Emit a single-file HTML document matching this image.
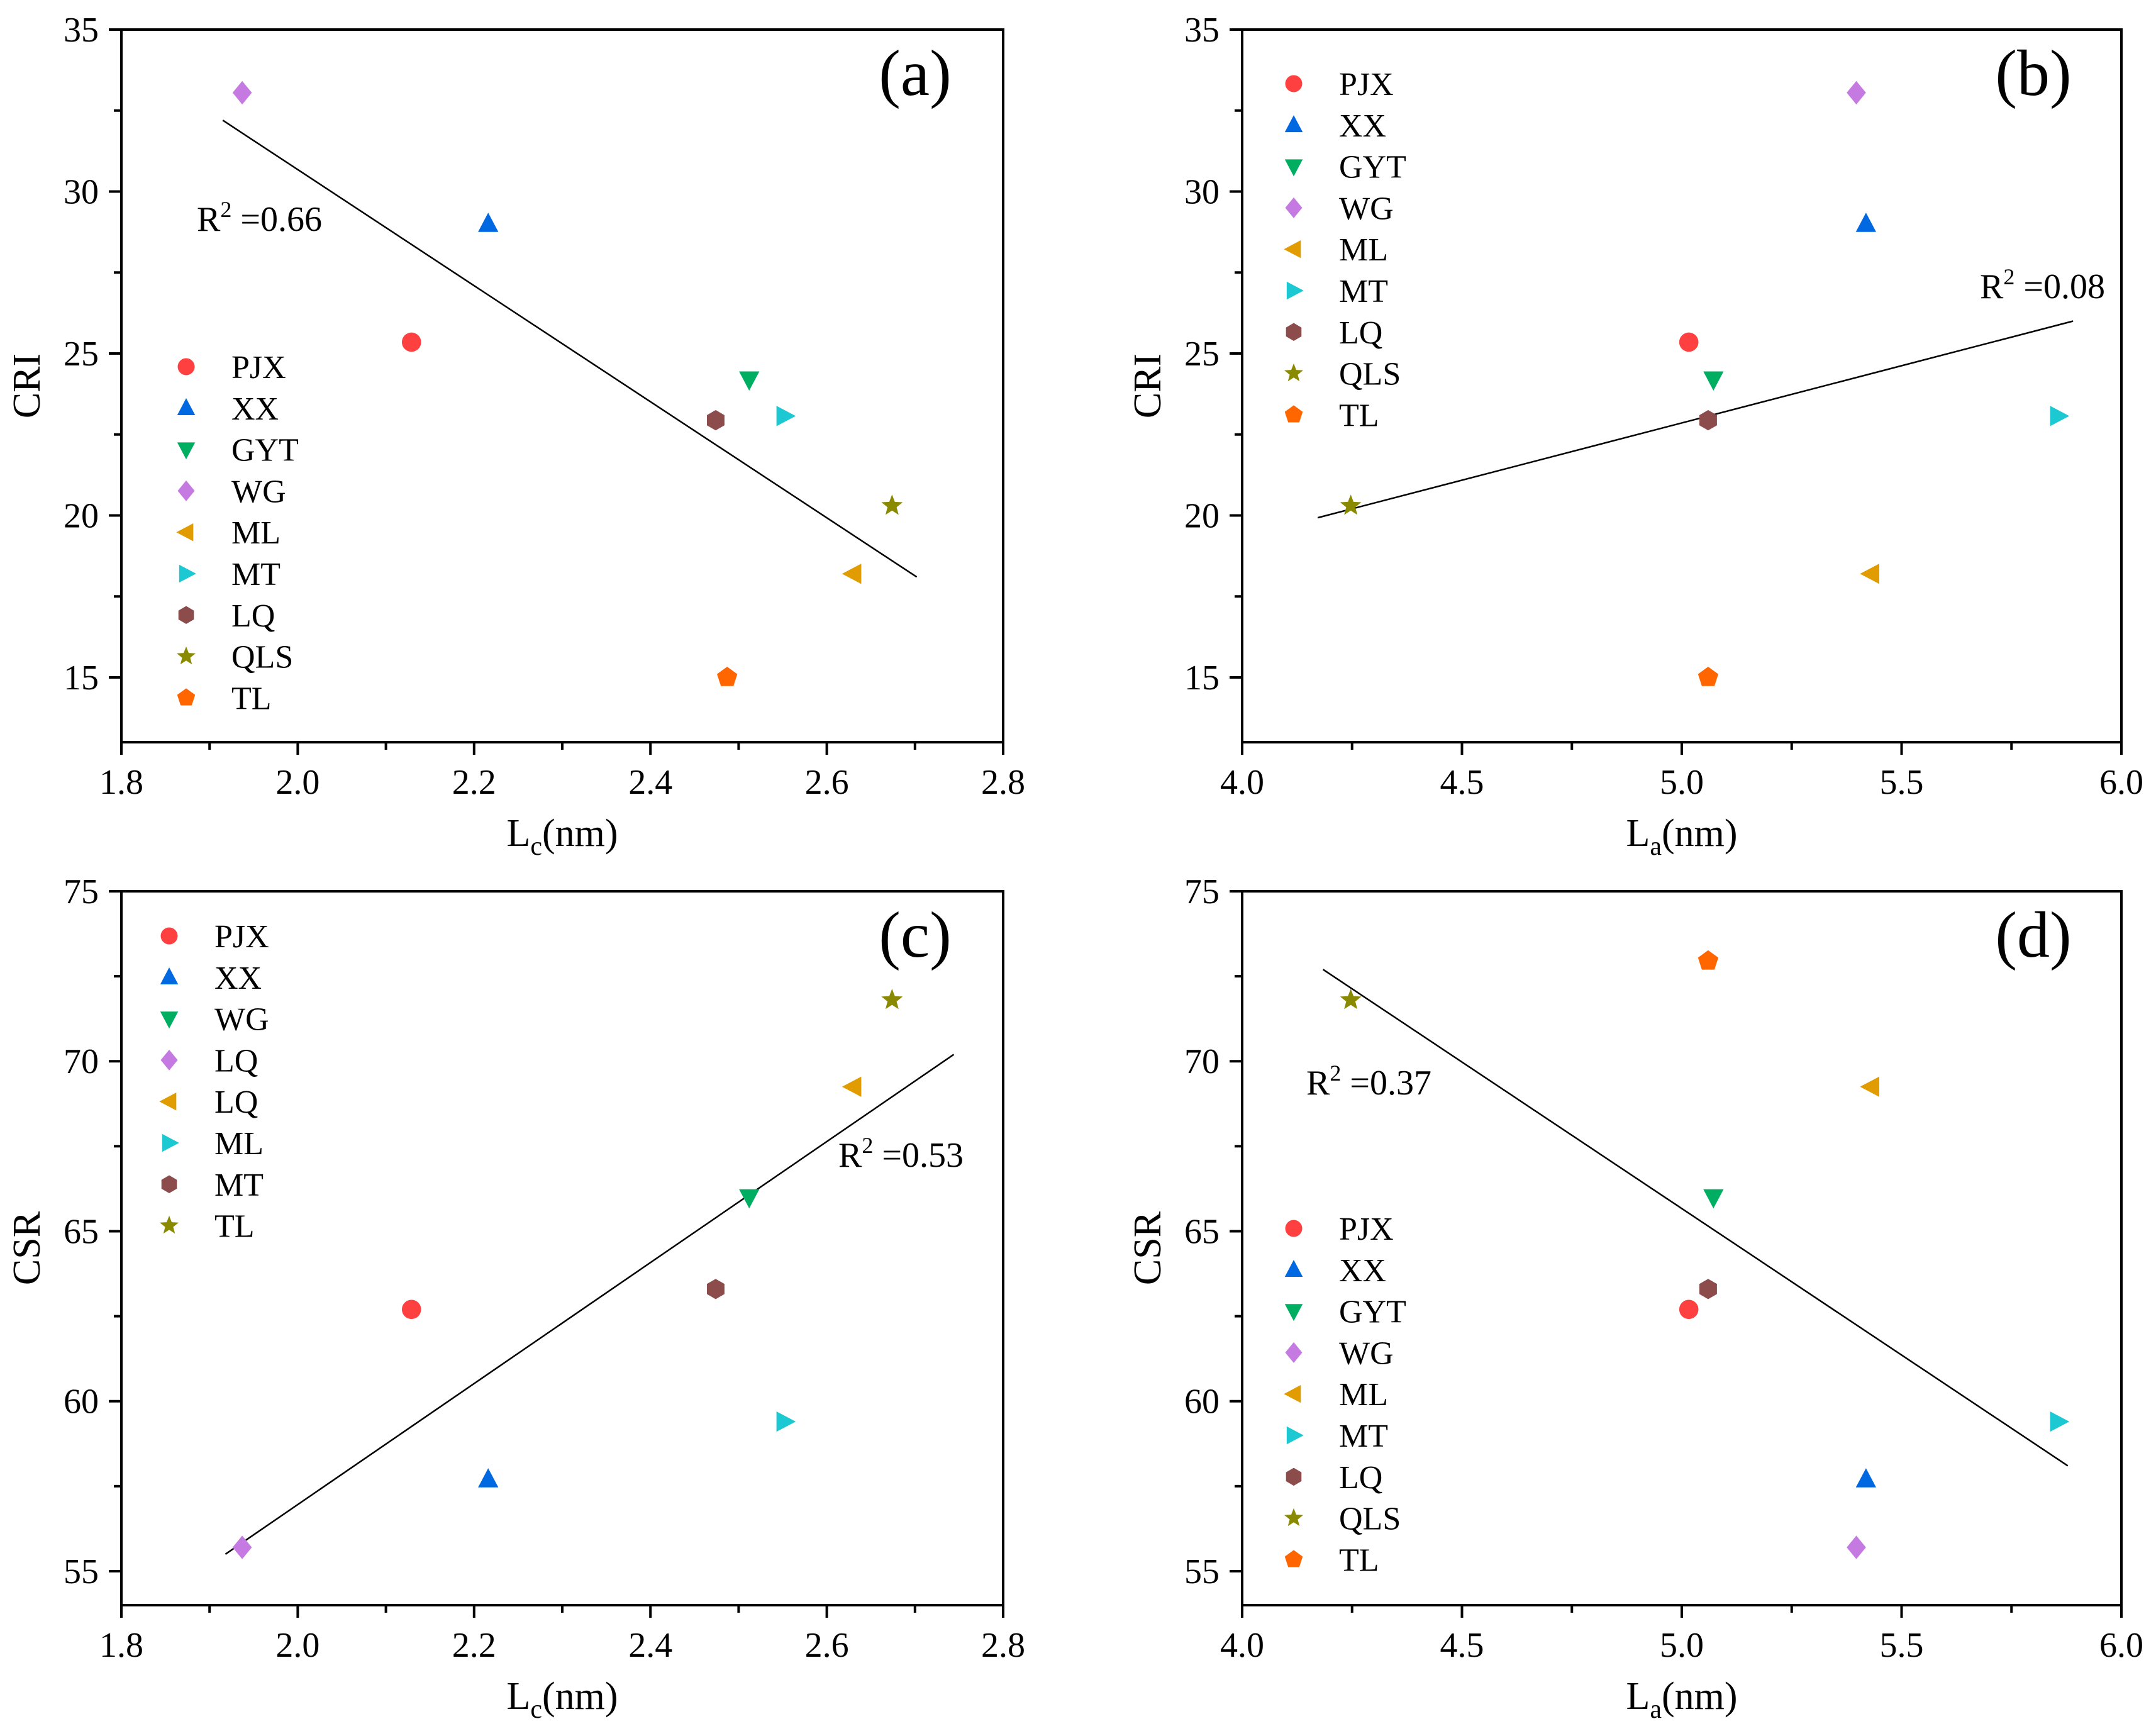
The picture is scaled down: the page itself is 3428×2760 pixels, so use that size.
<!DOCTYPE html>
<html><head><meta charset="utf-8"><style>
html,body{margin:0;padding:0;background:#fff;}
svg{display:block;font-family:"Liberation Serif","DejaVu Serif",serif;}
text{font-family:"Liberation Serif","DejaVu Serif",serif;fill:#000;}
</style></head><body>
<svg id="fig" width="3428" height="2760" viewBox="0 0 3428 2760" xmlns="http://www.w3.org/2000/svg" font-family="Liberation Serif, serif"></svg>
<script>
// ---- data ----
const sampleNames = ["PJX","XX","GYT","WG","ML","MT","LQ","QLS","TL"];
const lcValues = [2.129,2.216,2.512,1.937,2.630,2.552,2.474,2.674,2.487];
const laValues = [5.016,5.419,5.072,5.397,5.431,5.856,5.060,4.247,5.060];
const criValues = [25.35,29.0,24.2,33.05,18.2,23.07,22.94,20.3,15.0];
const csrValues = [62.7,57.7,66.0,55.7,69.25,59.4,63.3,71.8,72.95];
const xTicksLc = [1.8,2.0,2.2,2.4,2.6,2.8];
const xTicksLa = [4.0,4.5,5.0,5.5,6.0];
const yTicksCri = [15,20,25,30,35];
const yTicksCsr = [55,60,65,70,75];
const fitA = [1.915,32.2,2.702,18.1];
const fitB = [4.172,19.93,5.89,26.0];
const fitC = [1.918,55.5,2.744,70.2];
const fitD = [4.184,72.7,5.878,58.1];
const legendC = ["PJX","XX","WG","LQ","LQ","ML","MT","TL"];

const colors = {PJX:"#ff4040",XX:"#0068e0",GYT:"#00ae62",WG:"#c47ae0",ML:"#e09c00",MT:"#1cc8d2",LQ:"#8c4c4c",QLS:"#8a8a00",TL:"#ff6600"};
const shapes = {PJX:"circle",XX:"up",GYT:"down",WG:"diamond",ML:"left",MT:"right",LQ:"hex",QLS:"star",TL:"pent"};
const legendCShapes = ["circle","up","down","diamond","left","right","hex","star"];
const legendCColors = ["#ff4040","#0068e0","#00ae62","#c47ae0","#e09c00","#1cc8d2","#8c4c4c","#8a8a00"];

const svg = document.getElementById('fig');
const NS = "http://www.w3.org/2000/svg";
const FF = '"Liberation Serif", "DejaVu Serif", serif';
function mk(tag, attrs, parent){const e=document.createElementNS(NS,tag);for(const k in attrs)e.setAttribute(k,attrs[k]);if(tag==='text'){e.setAttribute('font-family',FF);e.style.fontFamily=FF;}(parent||svg).appendChild(e);return e;}

function markerPath(shape,cx,cy,r){
  let pts=[];
  if(shape==="up") pts=[[0,-1.05],[0.95,0.75],[-0.95,0.75]];
  else if(shape==="down") pts=[[0,1.05],[0.95,-0.75],[-0.95,-0.75]];
  else if(shape==="left") pts=[[-1.05,0],[0.75,-0.95],[0.75,0.95]];
  else if(shape==="right") pts=[[1.05,0],[-0.75,-0.95],[-0.75,0.95]];
  else if(shape==="diamond") pts=[[0,-1.1],[0.9,0],[0,1.1],[-0.9,0]];
  else if(shape==="hex"){for(let i=0;i<6;i++){const a=Math.PI/6+i*Math.PI/3;pts.push([Math.cos(a)*0.95,Math.sin(a)*0.95]);}}
  else if(shape==="pent"){for(let i=0;i<5;i++){const a=-Math.PI/2+i*2*Math.PI/5;pts.push([Math.cos(a),Math.sin(a)]);}}
  else if(shape==="star"){for(let i=0;i<10;i++){const a=-Math.PI/2+i*Math.PI/5;const rr=i%2?0.45:1.05;pts.push([Math.cos(a)*rr,Math.sin(a)*rr]);}}
  return "M"+pts.map(p=>(cx+p[0]*r).toFixed(1)+","+(cy+p[1]*r).toFixed(1)).join("L")+"Z";
}
function drawMarker(g,shape,color,cx,cy,r,name){
  let e;
  if(shape==="circle") e=mk('circle',{cx:cx,cy:cy,r:r*0.9,fill:color},g);
  else e=mk('path',{d:markerPath(shape,cx,cy,r),fill:color},g);
  
  
  return e;
}

function panel(opt){
  const g=mk('g',{});
  
  
  const {L,R,T,B,xmin,xmax,ymin,ymax}=opt;
  const sx=v=>L+(v-xmin)/(xmax-xmin)*(R-L);
  const sy=v=>B-(v-ymin)/(ymax-ymin)*(B-T);
  const frame=mk('rect',{x:L,y:T,width:R-L,height:B-T,fill:"none",stroke:"#000","stroke-width":4},g);
  
  
  const xt=opt.xticks, xstep=xt[1]-xt[0];
  for(let i=0;i<xt.length;i++){
    const x=sx(xt[i]);
    mk('line',{x1:x,y1:B,x2:x,y2:B+20,stroke:"#000","stroke-width":4},g);
    const t=mk('text',{x:x,y:B+82,"font-size":56,"text-anchor":"middle"},g);
    t.textContent=xt[i].toFixed(1);
    
    
    if(i<xt.length-1){const xm=sx(xt[i]+xstep/2);mk('line',{x1:xm,y1:B,x2:xm,y2:B+12,stroke:"#000","stroke-width":4},g);}
  }
  const yt=opt.yticks, ystep=yt[1]-yt[0];
  for(let i=0;i<yt.length;i++){
    const y=sy(yt[i]);
    mk('line',{x1:L,y1:y,x2:L-20,y2:y,stroke:"#000","stroke-width":4},g);
    const t=mk('text',{x:L-36,y:y+19,"font-size":56,"text-anchor":"end"},g);
    t.textContent=yt[i];
    
    
    const ym=sy(yt[i]-ystep/2);
    if(yt[i]-ystep/2>ymin) mk('line',{x1:L,y1:ym,x2:L-12,y2:ym,stroke:"#000","stroke-width":4},g);
  }
  const xtitle=mk('text',{x:(L+R)/2,y:B+165,"font-size":62,"text-anchor":"middle"},g);
  xtitle.innerHTML='L<tspan font-size="42" dy="14">'+opt.sub+'</tspan><tspan dy="-14">(nm)</tspan>';
  
  
  const ytitle=mk('text',{x:0,y:0,"font-size":62,"text-anchor":"middle",transform:`translate(${L-130},${(T+B)/2}) rotate(-90)`},g);
  ytitle.textContent=opt.ytitle;
  
  
  const f=opt.fit;
  const fl=mk('line',{x1:sx(f[0]),y1:sy(f[1]),x2:sx(f[2]),y2:sy(f[3]),stroke:"#000","stroke-width":2.5},g);
  
  
  for(let i=0;i<sampleNames.length;i++){
    if(opt.skip && opt.skip.includes(sampleNames[i])) continue;
    const n=sampleNames[i];
    drawMarker(g,shapes[n],colors[n],sx(opt.xs[i]),sy(opt.ys[i]),17,'point-'+n.toLowerCase());
  }
  const r2=mk('text',{x:opt.r2[0],y:opt.r2[1],"font-size":56},g);
  r2.innerHTML='R<tspan font-size="36" dy="-22">2</tspan><tspan dy="22"> =' + opt.r2[2] + '</tspan>';
  
  
  const pl=mk('text',{x:R-140,y:T+104,"font-size":104,"text-anchor":"middle"},g);
  pl.textContent=opt.label;
  
  
  const lg=mk('g',{},g);
  
  
  for(let i=0;i<opt.legNames.length;i++){
    const y=opt.leg[1]+i*65.8;
    drawMarker(lg,opt.legShapes[i],opt.legColors[i],opt.leg[0],y,15,'legend-marker');
    const t=mk('text',{x:opt.leg[0]+72,y:y+18,"font-size":52},lg);
    t.textContent=opt.legNames[i];
    
    
  }
}
const defNames=sampleNames, defShapes=sampleNames.map(n=>shapes[n]), defColors=sampleNames.map(n=>colors[n]);
panel({name:'panel-a',L:193,R:1595,T:47,B:1180,xmin:1.8,xmax:2.8,ymin:13,ymax:35,xticks:xTicksLc,yticks:yTicksCri,sub:'c',ytitle:'CRI',xs:lcValues,ys:criValues,fit:fitA,r2:[313,367,'0.66'],label:'(a)',leg:[296,583],legNames:defNames,legShapes:defShapes,legColors:defColors});
panel({name:'panel-b',L:1975,R:3373,T:47,B:1180,xmin:4.0,xmax:6.0,ymin:13,ymax:35,xticks:xTicksLa,yticks:yTicksCri,sub:'a',ytitle:'CRI',xs:laValues,ys:criValues,fit:fitB,r2:[3148,474,'0.08'],label:'(b)',leg:[2057,133],legNames:defNames,legShapes:defShapes,legColors:defColors});
panel({name:'panel-c',L:193,R:1595,T:1417,B:2552,xmin:1.8,xmax:2.8,ymin:54,ymax:75,xticks:xTicksLc,yticks:yTicksCsr,sub:'c',ytitle:'CSR',xs:lcValues,ys:csrValues,fit:fitC,r2:[1333,1855,'0.53'],label:'(c)',leg:[269,1488],legNames:legendC,legShapes:legendCShapes,legColors:legendCColors,skip:['TL']});
panel({name:'panel-d',L:1975,R:3373,T:1417,B:2552,xmin:4.0,xmax:6.0,ymin:54,ymax:75,xticks:xTicksLa,yticks:yTicksCsr,sub:'a',ytitle:'CSR',xs:laValues,ys:csrValues,fit:fitD,r2:[2077,1740,'0.37'],label:'(d)',leg:[2057,1953],legNames:defNames,legShapes:defShapes,legColors:defColors});
</script>
</body></html>
